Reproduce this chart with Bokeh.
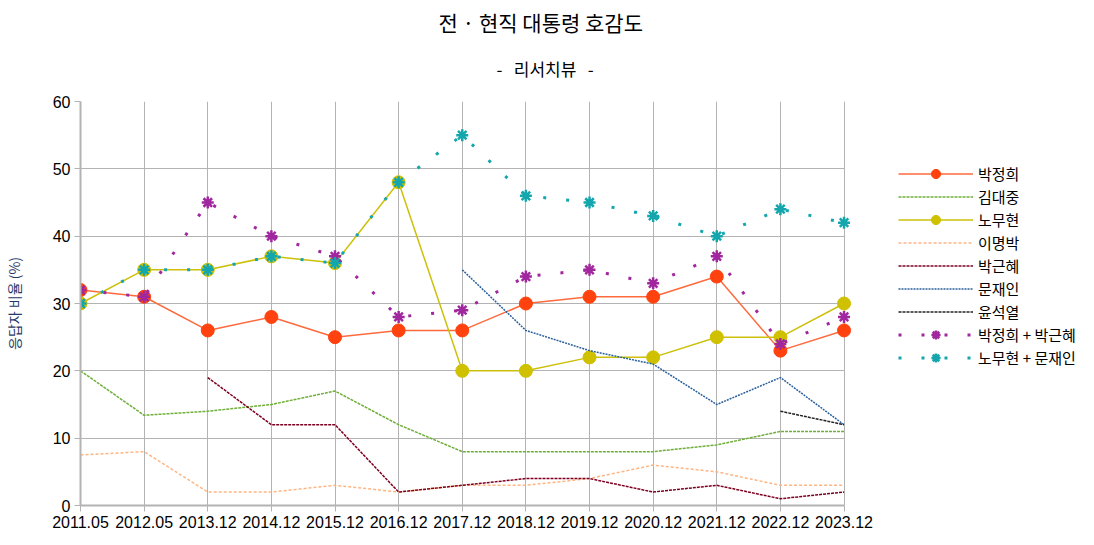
import numpy as np
from bokeh.plotting import figure
from bokeh.models import (Range1d, FixedTicker, Legend, LegendItem, Title)
from bokeh.embed import file_html
from bokeh.resources import INLINE

nan = float("nan")

periods = ["2011.05", "2012.05", "2013.12", "2014.12", "2015.12", "2016.12", "2017.12",
           "2018.12", "2019.12", "2020.12", "2021.12", "2022.12", "2023.12"]
park_jh = [32, 31, 26, 28, 25, 26, 26, 30, 31, 31, 34, 23, 26]
kim_dj = [20, 13.4, 14, 15, 17, 12, 8, 8, 8, 8, 9, 11, 11]
roh_mh = [30, 35, 35, 37, 36, 48, 20, 20, 22, 22, 25, 25, 30]
lee_mb = [7.5, 8, 2, 2, 3, 2, 3, 3, 4, 6, 5, 3, 3]
park_gh = [nan, nan, 19, 12, 12, 2, 3, 4, 4, 2, 3, 1, 2]
moon_ji = [nan, nan, nan, nan, nan, nan, 35, 26, 23, 21, 15, 19, 12]
yoon_sy = [nan, nan, nan, nan, nan, nan, nan, nan, nan, nan, nan, 14, 12]
park_sum = [32, 31, 45, 40, 37, 28, 29, 34, 35, 33, 37, 24, 28]
roh_moon_sum = [30, 35, 35, 37, 36, 48, 55, 46, 45, 43, 40, 44, 42]

title_text = "전 · 현직 대통령 호감도"
subtitle_text = "-\u00a0\u00a0\u00a0리서치뷰\u00a0\u00a0\u00a0-"
y_label = "응답자 비율 (%)"

KR = "Noto Sans CJK KR"
LAT = "Liberation Sans"

xs = list(range(len(periods)))
n_last = len(periods) - 1

W, H = 1078, 533
LEFT, BOTTOM, TOP = 74, 28, 101
x_end = 15.685

p = figure(width=W, height=H, output_backend="svg", toolbar_location=None,
           x_range=Range1d(0, x_end), y_range=Range1d(0, 60),
           min_border_left=LEFT, min_border_right=0, min_border_top=TOP, min_border_bottom=BOTTOM)
p.outline_line_color = None
p.background_fill_color = "white"
p.border_fill_color = "white"

p.xaxis.ticker = FixedTicker(ticks=xs)
p.xaxis.major_label_overrides = {i: s for i, s in enumerate(periods)}
p.xaxis.bounds = (0, n_last)
p.yaxis.ticker = FixedTicker(ticks=[0, 10, 20, 30, 40, 50, 60])
for ax in (p.xaxis[0], p.yaxis[0]):
    ax.axis_line_color = "#b3b3b3"
    ax.axis_line_width = 2
    ax.major_tick_line_color = "#b3b3b3"
    ax.major_tick_line_width = 1
    ax.major_tick_out = 6
    ax.major_tick_in = 0
    ax.minor_tick_line_color = None
    ax.major_label_text_font = LAT
    ax.major_label_text_font_size = "16px"
    ax.major_label_text_color = "black"
    ax.major_label_standoff = 4
p.yaxis.axis_label = y_label
p.yaxis.axis_label_text_font = KR
p.yaxis.axis_label_text_font_size = "14px"
p.yaxis.axis_label_text_font_style = "normal"
p.yaxis.axis_label_text_color = "#1f3a68"
p.yaxis.axis_label_standoff = 26

p.xgrid.grid_line_color = "#b3b3b3"
p.ygrid.grid_line_color = "#b3b3b3"
p.xgrid.grid_line_width = 1
p.ygrid.grid_line_width = 1
p.xgrid.bounds = (0, n_last)
p.xgrid.cross_bounds = (0, 60)
p.ygrid.cross_bounds = (0, n_last)

items = []

r1 = p.line(xs, park_jh, line_color="#ff6a3d", line_width=1.5)
r1m = p.scatter(xs, park_jh, size=13, marker="circle", fill_color="#ff420e", line_color="#ff420e")
items.append(LegendItem(label="박정희", renderers=[r1, r1m]))

r2 = p.line(xs, kim_dj, line_color="#6fae3a", line_width=1.5, line_dash="3 1")
items.append(LegendItem(label="김대중", renderers=[r2]))

r3 = p.line(xs, roh_mh, line_color="#cdc00a", line_width=1.5)
r3m = p.scatter(xs, roh_mh, size=13, marker="circle", fill_color="#cfc000", line_color="#cfc000")
items.append(LegendItem(label="노무현", renderers=[r3, r3m]))

r4 = p.line(xs, lee_mb, line_color="#ffb582", line_width=1.5, line_dash="3 2")
items.append(LegendItem(label="이명박", renderers=[r4]))

r5 = p.line(xs, park_gh, line_color="#7e0021", line_width=1.5, line_dash="3 1")
items.append(LegendItem(label="박근혜", renderers=[r5]))

r6 = p.line(xs, moon_ji, line_color="#2a609c", line_width=1.5, line_dash="2 1")
items.append(LegendItem(label="문재인", renderers=[r6]))

r7 = p.line(xs, yoon_sy, line_color="#222222", line_width=1.5, line_dash="3 1")
items.append(LegendItem(label="윤석열", renderers=[r7]))

r8 = p.line(xs, park_sum, line_color="#a0279e", line_width=3, line_dash="3 20")
r8m = p.scatter(xs, park_sum, size=12, marker="asterisk", line_color="#a0279e", line_width=2.5)
items.append(LegendItem(label="박정희 + 박근혜", renderers=[r8, r8m]))

r9 = p.line(xs, roh_moon_sum, line_color="#14a6ad", line_width=3, line_dash="3 20")
r9m = p.scatter(xs, roh_moon_sum, size=12, marker="asterisk", line_color="#14a6ad", line_width=2.5)
items.append(LegendItem(label="노무현 + 문재인", renderers=[r9, r9m]))

legend = Legend(items=items, location=(818, 136), orientation="vertical",
                glyph_width=75, glyph_height=23, label_height=20, spacing=0,
                padding=0, margin=0, label_standoff=5,
                border_line_color=None, background_fill_alpha=0,
                label_text_font=KR, label_text_font_size="15px", label_text_color="black")
p.add_layout(legend, "center")

p.add_layout(Title(text=subtitle_text, align="left", offset=416, text_font=KR, text_font_size="17px",
                   text_font_style="normal", text_color="black", standoff=38,
                   vertical_align="top"), "above")
p.add_layout(Title(text=title_text, align="left", offset=358, text_font=KR, text_font_size="21px",
                   text_font_style="normal", text_color="black", standoff=0), "above")

open("out.html", "w").write(file_html(p, INLINE))
